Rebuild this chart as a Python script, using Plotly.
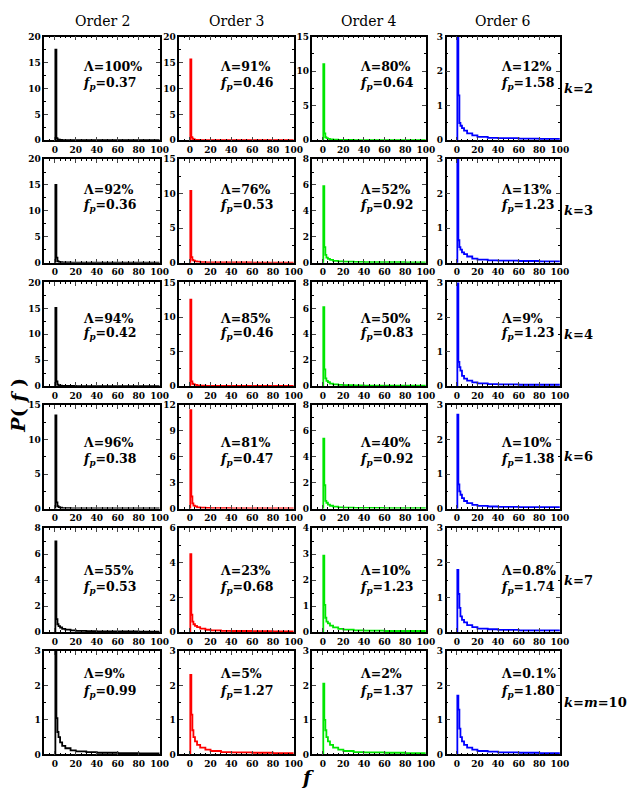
import plotly.graph_objects as go

# ---------------- data ----------------
F = [0, 0.5, 1.5, 2.5, 3.5, 5, 7, 10, 15, 20, 30, 40, 60, 80, 100]

ORDERS = ["Order 2", "Order 3", "Order 4", "Order 6"]
K_LABELS = ["<i>k</i>=2", "<i>k</i>=3", "<i>k</i>=4", "<i>k</i>=6", "<i>k</i>=7", "<i>k</i>=<i>m</i>=10"]
COLORS = ["#000000", "#ff0000", "#00e600", "#0000ff"]

# P(f) per row (k=2,3,4,6,7,10) for each order
P_ORDER2 = [
    [0, 17.5, 0.40, 0.15, 0.10, 0.06, 0.04, 0.03, 0.02, 0.02, 0.01, 0.01, 0.01, 0.01, 0.01],
    [0, 15.0, 1.00, 0.30, 0.15, 0.10, 0.06, 0.04, 0.03, 0.02, 0.02, 0.01, 0.01, 0.01, 0.01],
    [0, 15.1, 0.90, 0.30, 0.15, 0.10, 0.06, 0.04, 0.03, 0.02, 0.02, 0.01, 0.01, 0.01, 0.01],
    [0, 13.5, 0.90, 0.35, 0.20, 0.12, 0.08, 0.05, 0.04, 0.03, 0.02, 0.02, 0.01, 0.01, 0.01],
    [0, 7.0, 1.00, 0.60, 0.45, 0.35, 0.25, 0.18, 0.12, 0.09, 0.06, 0.05, 0.04, 0.03, 0.03],
    [0, 3.5, 1.05, 0.65, 0.50, 0.35, 0.25, 0.18, 0.12, 0.09, 0.07, 0.05, 0.04, 0.03, 0.03],
]
P_ORDER3 = [
    [0, 15.6, 0.60, 0.30, 0.15, 0.08, 0.05, 0.03, 0.02, 0.02, 0.01, 0.01, 0.01, 0.01, 0.01],
    [0, 10.4, 0.80, 0.40, 0.30, 0.20, 0.15, 0.10, 0.06, 0.05, 0.04, 0.03, 0.02, 0.02, 0.02],
    [0, 12.5, 0.70, 0.35, 0.25, 0.18, 0.12, 0.08, 0.05, 0.04, 0.03, 0.02, 0.02, 0.02, 0.02],
    [0, 11.4, 1.40, 0.60, 0.35, 0.25, 0.15, 0.10, 0.07, 0.05, 0.04, 0.03, 0.02, 0.02, 0.02],
    [0, 4.5, 1.00, 0.60, 0.45, 0.35, 0.28, 0.20, 0.13, 0.10, 0.07, 0.06, 0.05, 0.04, 0.04],
    [0, 2.3, 1.15, 0.70, 0.50, 0.38, 0.28, 0.20, 0.14, 0.10, 0.07, 0.06, 0.05, 0.04, 0.04],
]
P_ORDER4 = [
    [0, 11.0, 1.00, 0.45, 0.30, 0.20, 0.12, 0.08, 0.05, 0.04, 0.03, 0.02, 0.02, 0.02, 0.02],
    [0, 5.9, 1.20, 0.60, 0.40, 0.30, 0.22, 0.15, 0.10, 0.08, 0.06, 0.05, 0.04, 0.03, 0.03],
    [0, 6.1, 1.30, 0.60, 0.40, 0.30, 0.20, 0.14, 0.10, 0.07, 0.05, 0.04, 0.03, 0.03, 0.03],
    [0, 5.4, 1.80, 0.60, 0.45, 0.30, 0.22, 0.15, 0.10, 0.08, 0.06, 0.05, 0.04, 0.03, 0.03],
    [0, 2.95, 1.05, 0.55, 0.40, 0.33, 0.25, 0.18, 0.12, 0.09, 0.06, 0.05, 0.04, 0.04, 0.04],
    [0, 2.05, 1.00, 0.70, 0.50, 0.38, 0.28, 0.20, 0.14, 0.10, 0.07, 0.06, 0.05, 0.04, 0.04],
]
P_ORDER6 = [
    [0, 3.5, 1.30, 0.50, 0.42, 0.35, 0.28, 0.20, 0.14, 0.10, 0.07, 0.06, 0.05, 0.04, 0.04],
    [0, 3.5, 0.65, 0.45, 0.38, 0.30, 0.25, 0.18, 0.12, 0.09, 0.07, 0.06, 0.05, 0.04, 0.04],
    [0, 3.5, 0.70, 0.55, 0.45, 0.30, 0.22, 0.16, 0.11, 0.08, 0.06, 0.05, 0.04, 0.04, 0.04],
    [0, 2.72, 0.70, 0.50, 0.40, 0.30, 0.22, 0.16, 0.11, 0.08, 0.06, 0.05, 0.04, 0.04, 0.04],
    [0, 1.8, 1.10, 0.70, 0.45, 0.35, 0.28, 0.20, 0.14, 0.10, 0.08, 0.06, 0.05, 0.05, 0.05],
    [0, 1.7, 1.30, 0.75, 0.50, 0.38, 0.28, 0.20, 0.14, 0.10, 0.08, 0.06, 0.05, 0.04, 0.04],
]
P_ALL = [P_ORDER2, P_ORDER3, P_ORDER4, P_ORDER6]

LAMBDA = [
    ["100%", "91%", "80%", "12%"],
    ["92%", "76%", "52%", "13%"],
    ["94%", "85%", "50%", "9%"],
    ["96%", "81%", "40%", "10%"],
    ["55%", "23%", "10%", "0.8%"],
    ["9%", "5%", "2%", "0.1%"],
]
FP = [
    ["0.37", "0.46", "0.64", "1.58"],
    ["0.36", "0.53", "0.92", "1.23"],
    ["0.42", "0.46", "0.83", "1.23"],
    ["0.38", "0.47", "0.92", "1.38"],
    ["0.53", "0.68", "1.23", "1.74"],
    ["0.99", "1.27", "1.37", "1.80"],
]
Y_MAX = [
    [20, 20, 15, 3],
    [20, 15, 8, 3],
    [20, 15, 8, 3],
    [15, 12, 8, 3],
    [8, 6, 4, 3],
    [3, 3, 3, 3],
]
Y_DTICK = [
    [5, 5, 5, 1],
    [5, 5, 2, 1],
    [5, 5, 2, 1],
    [5, 3, 2, 1],
    [2, 2, 1, 1],
    [1, 1, 1, 1],
]
X_TICKS = [0, 20, 40, 60, 80, 100]

# ---------------- layout geometry ----------------
W, H = 629, 796
COL_PX = [(45, 162), (182, 298), (317, 432), (453, 568)]
ROW_TOP = [32, 156, 281, 405, 530, 654]
ROW_H = 105
TEXT_LEFT = [82, 221, 363, 506]
TEXT_OFF = [(30, 48), (31, 47), (36, 52), (38, 55), (43, 60), (23, 41)]

FONT = "DejaVu Serif"
tickfont = dict(family=FONT, size=9, color="black", weight="bold")

fig = go.Figure()
layout = dict(
    width=W, height=H,
    margin=dict(l=0, r=0, t=0, b=0),
    paper_bgcolor="white", plot_bgcolor="white",
    showlegend=False,
    font=dict(family=FONT, color="black"),
)
annotations = []

for r in range(6):
    for c in range(4):
        idx = r * 4 + c + 1
        sfx = "" if idx == 1 else str(idx)
        fig.add_trace(go.Scatter(
            x=F, y=P_ALL[c][r], mode="lines",
            line=dict(color=COLORS[c], width=1.8, shape="hv"),
            xaxis="x" + sfx, yaxis="y" + sfx, hoverinfo="skip",
        ))
        x0, x1 = COL_PX[c]
        y_top = ROW_TOP[r]
        y_bot = y_top + ROW_H
        layout["xaxis" + sfx] = dict(
            domain=[x0 / W, x1 / W], range=[-10, 100], anchor="y" + sfx,
            tickvals=X_TICKS, ticks="inside", ticklen=4, tickwidth=1.2,
            mirror="allticks", showline=True, linecolor="black", linewidth=1.5,
            showgrid=False, zeroline=False, tickfont=tickfont,
            minor=dict(dtick=5, tick0=0, ticks="inside", ticklen=2, tickwidth=1, tickcolor="black", showgrid=False),
            fixedrange=True,
        )
        dt = Y_DTICK[r][c]
        layout["yaxis" + sfx] = dict(
            domain=[1 - y_bot / H, 1 - y_top / H], range=[0, Y_MAX[r][c]], anchor="x" + sfx,
            dtick=dt, tick0=0, ticks="inside", ticklen=4, tickwidth=1.2,
            mirror="allticks", showline=True, linecolor="black", linewidth=1.5,
            showgrid=False, zeroline=False, tickfont=tickfont,
            minor=dict(dtick=dt / 2, tick0=0, ticks="inside", ticklen=2, tickwidth=1, tickcolor="black", showgrid=False),
            fixedrange=True,
        )
        # texts in panel
        oy1, oy2 = TEXT_OFF[r]
        annotations.append(dict(
            xref="paper", yref="paper", x=TEXT_LEFT[c] / W, y=1 - (y_top + oy1) / H,
            xanchor="left", yanchor="middle", showarrow=False,
            text="<b>Λ=" + LAMBDA[r][c] + "</b>",
            font=dict(family=FONT, size=12.5, color="black"),
        ))
        annotations.append(dict(
            xref="paper", yref="paper", x=TEXT_LEFT[c] / W, y=1 - (y_top + oy2) / H,
            xanchor="left", yanchor="middle", showarrow=False,
            text="<b><i>f</i><sub><i>p</i></sub>=" + FP[r][c] + "</b>",
            font=dict(family=FONT, size=12.5, color="black"),
        ))

# column titles
for c in range(4):
    x0, x1 = COL_PX[c]
    annotations.append(dict(
        xref="paper", yref="paper", x=(x0 + x1) / 2 / W, y=1 - 16 / H,
        xanchor="center", yanchor="middle", showarrow=False,
        text=ORDERS[c], font=dict(family=FONT, size=14, color="black"),
    ))

# row labels
for r in range(6):
    annotations.append(dict(
        xref="paper", yref="paper", x=570 / W, y=1 - (ROW_TOP[r] + ROW_H / 2) / H,
        xanchor="left", yanchor="middle", showarrow=False,
        text="<b>" + K_LABELS[r] + "</b>", font=dict(family=FONT, size=13, color="black"),
    ))

# axis titles
annotations.append(dict(
    xref="paper", yref="paper", x=18 / W, y=1 - 405 / H,
    xanchor="center", yanchor="middle", showarrow=False, textangle=-90,
    text="<b><i>P</i>( <i>f</i> )</b>", font=dict(family=FONT, size=19, color="black"),
))
annotations.append(dict(
    xref="paper", yref="paper", x=312 / W, y=1 - 782 / H,
    xanchor="center", yanchor="middle", showarrow=False,
    text="<b><i>f</i></b>", font=dict(family=FONT, size=19, color="black"),
))

layout["annotations"] = annotations
fig.update_layout(**layout)
fig.write_html("out.html")
